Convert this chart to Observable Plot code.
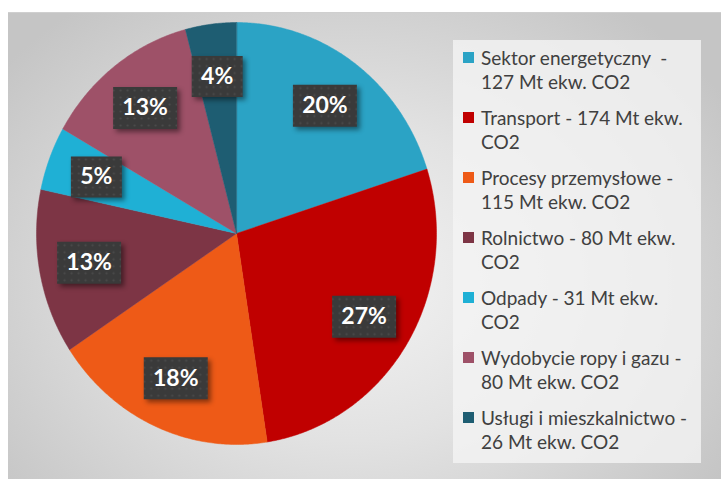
<!DOCTYPE html>
<html>
<head>
<meta charset="utf-8">
<script src="https://cdn.jsdelivr.net/npm/d3@7"></script>
<script src="https://cdn.jsdelivr.net/npm/@observablehq/plot@0.6"></script>
<style>
  html, body { margin: 0; padding: 0; background: #fff; }
  #page { position: relative; width: 721px; height: 479px; overflow: hidden; }
  #panel {
    position: absolute; left: 8px; top: 12px; width: 713px; height: 467px;
    background: radial-gradient(ellipse 62% 75% at 48% 58%, #f3f3f3 0%, #e2e2e2 45%, #c5c5c5 100%);
    border-top: 1px solid #cfcfcf;
    box-sizing: border-box;
  }
  #legendBox {
    position: absolute; left: 453px; top: 40px; width: 248px; height: 423px;
    background: rgba(244,244,244,0.8);
  }
  #chart { position: absolute; left: 0; top: 0; }
  #legend {
    position: absolute; left: 463px; top: 46px;
    font-family: Lato, "Open Sans", sans-serif; font-size: 19px; color: #404040;
  }
  .item { display: flex; align-items: flex-start; margin-bottom: 12px; }
  .sw { width: 11px; height: 11px; margin-top: 6px; margin-right: 7px; flex: none; }
  .txt { line-height: 24px; white-space: pre; }
  svg g[aria-label="dot"] path { filter: drop-shadow(3px 3px 2.5px rgba(0,0,0,0.45)); }
</style>
</head>
<body>
<div id="page">
  <div id="panel"></div>
  <div id="legendBox"></div>
  <div id="chart"></div>
  <div id="legend"></div>
</div>
<script>
// ---- data ----
const names = [
  "Sektor energetyczny",
  "Transport",
  "Procesy przemysłowe",
  "Rolnictwo",
  "Odpady",
  "Wydobycie ropy i gazu",
  "Usługi i mieszkalnictwo"
];
const values = [127, 174, 115, 80, 31, 80, 26];
const percentLabels = ["20%", "27%", "18%", "13%", "5%", "13%", "4%"];
const legendLines = [
  ["Sektor energetyczny  -", "127 Mt ekw. CO2"],
  ["Transport - 174 Mt ekw.", "CO2"],
  ["Procesy przemysłowe -", "115 Mt ekw. CO2"],
  ["Rolnictwo - 80 Mt ekw.", "CO2"],
  ["Odpady - 31 Mt ekw.", "CO2"],
  ["Wydobycie ropy i gazu -", "80 Mt ekw. CO2"],
  ["Usługi i mieszkalnictwo -", "26 Mt ekw. CO2"]
];
const colors = ["#2ba3c5", "#c00000", "#ee5a17", "#7d3545", "#1fb0d5", "#9e5168", "#1e5d72"];

// ---- build slices ----
const rows = names.map((name, i) => ({name, value: values[i], label: percentLabels[i]}));
const arcs = d3.pie().sort(null).value(d => d.value)(rows);
const polyPoints = [];
for (const a of arcs) {
  const n = Math.max(2, Math.ceil((a.endAngle - a.startAngle) / (Math.PI / 360)));
  polyPoints.push({name: a.data.name, x: 0, y: 0});
  for (let j = 0; j <= n; j++) {
    const t = a.startAngle + (a.endAngle - a.startAngle) * j / n;
    polyPoints.push({name: a.data.name, x: Math.sin(t), y: Math.cos(t)});
  }
}
const labelK = 0.75;
const labels = arcs.map(a => {
  const m = (a.startAngle + a.endAngle) / 2;
  return {name: a.data.name, label: a.data.label, x: labelK * Math.sin(m), y: labelK * Math.cos(m)};
});

const boxSymbol = (w, h) => ({draw(ctx) { ctx.rect(-w / 2, -h / 2, w, h); }});
const wideBox = boxSymbol(64, 42);
const narrowBox = boxSymbol(51, 41);

const plot = Plot.plot({
  width: 721,
  height: 479,
  margin: 0,
  style: {background: "transparent"},
  x: {domain: [-1, 1], range: [36, 436], axis: null},
  y: {domain: [-1, 1], range: [444, 22], axis: null},
  color: {domain: names, range: colors},
  marks: [
    Plot.line(polyPoints, {x: "x", y: "y", z: "name", fill: "name", stroke: "name", strokeWidth: 0.5, curve: "linear-closed"}),
    Plot.dot(labels, {x: "x", y: "y", r: 10, fill: "url(#dots)", stroke: "none",
      symbol: d => d.label.length > 2 ? wideBox : narrowBox}),
    Plot.text(labels, {x: "x", y: "y", text: "label", fill: "white", fontWeight: "bold",
      fontSize: 23, fontFamily: "Lato, 'Open Sans', sans-serif",
      fontStyle: d => d.name === "Usługi i mieszkalnictwo" ? "italic" : "normal"})
  ]
});

// dotted texture for label boxes
const svg = d3.select(plot);
const defs = svg.insert("defs", ":first-child");
const pat = defs.append("pattern").attr("id", "dots").attr("width", 7).attr("height", 7)
  .attr("patternUnits", "userSpaceOnUse");
pat.append("rect").attr("width", 7).attr("height", 7).attr("fill", "#3a3a3a");
pat.append("circle").attr("cx", 3.5).attr("cy", 3.5).attr("r", 1.1).attr("fill", "#4b4b4b");

document.getElementById("chart").appendChild(plot);

// legend
const legend = d3.select("#legend");
names.forEach((n, i) => {
  const item = legend.append("div").attr("class", "item");
  item.append("div").attr("class", "sw").style("background", colors[i]);
  item.append("div").attr("class", "txt").text(legendLines[i].join("\n"));
});
</script>
</body>
</html>
